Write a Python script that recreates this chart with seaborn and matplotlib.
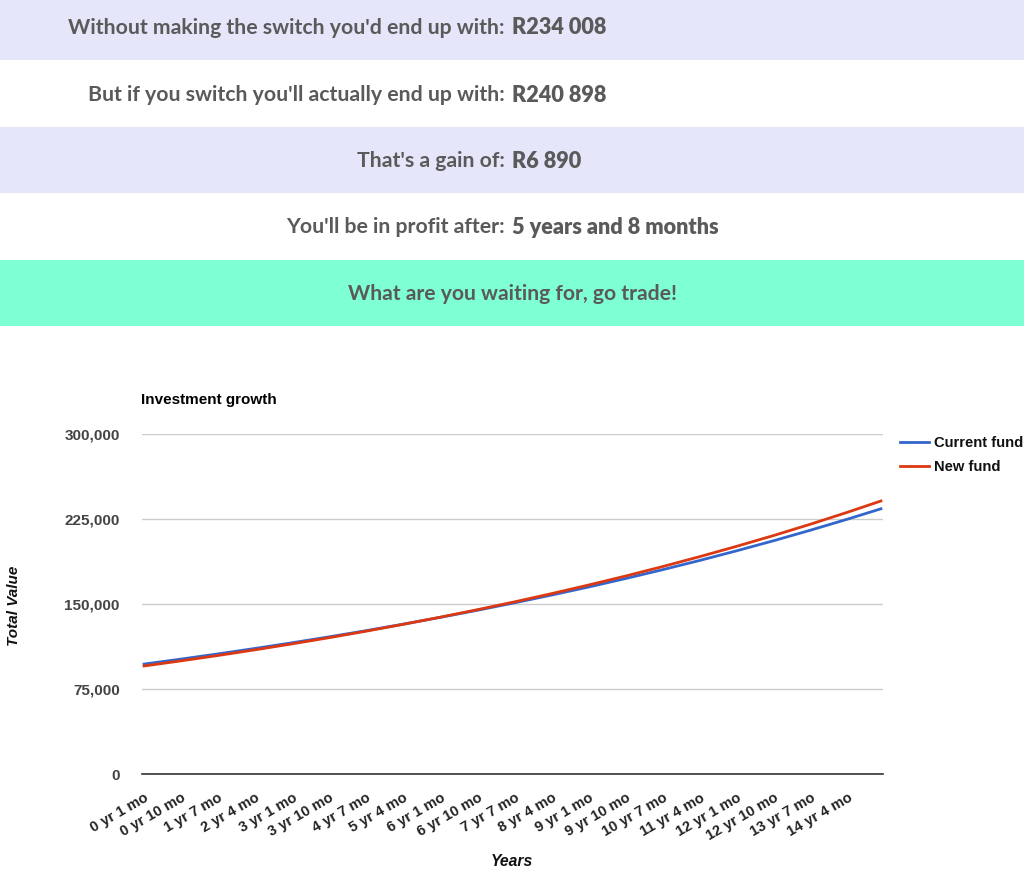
import matplotlib
matplotlib.use("Agg")
import matplotlib.pyplot as plt
from matplotlib.patches import Rectangle
from matplotlib.ticker import FuncFormatter, FixedLocator
from matplotlib.transforms import ScaledTranslation
import seaborn as sns
import pandas as pd

# ---- data ----
months = [1, 10, 19, 28, 37, 46, 55, 64, 73, 82, 91, 100, 109, 118, 127, 136, 145, 154, 163, 172, 180]
current_fund = [97000, 101400, 106000, 110800, 115800, 121050, 126500, 132250, 138250, 144500,
                151050, 157900, 165000, 172500, 180300, 188450, 197000, 205900, 215250, 225000, 234008]
new_fund = [95300, 99850, 104600, 109600, 114850, 120300, 126050, 132100, 138400, 145000,
            151900, 159150, 166750, 174700, 183050, 191800, 200950, 210500, 220550, 231100, 240898]
tick_months = [1, 10, 19, 28, 37, 46, 55, 64, 73, 82, 91, 100, 109, 118, 127, 136, 145, 154, 163, 172]
tick_labels = ["0 yr 1 mo", "0 yr 10 mo", "1 yr 7 mo", "2 yr 4 mo", "3 yr 1 mo", "3 yr 10 mo",
               "4 yr 7 mo", "5 yr 4 mo", "6 yr 1 mo", "6 yr 10 mo", "7 yr 7 mo", "8 yr 4 mo",
               "9 yr 1 mo", "9 yr 10 mo", "10 yr 7 mo", "11 yr 4 mo", "12 yr 1 mo", "12 yr 10 mo",
               "13 yr 7 mo", "14 yr 4 mo"]
series_names = ["Current fund", "New fund"]
y_ticks = [0, 75000, 150000, 225000, 300000]

banner_labels = ["Without making the switch you'd end up with:",
                 "But if you switch you'll actually end up with:",
                 "That's a gain of:",
                 "You'll be in profit after:"]
banner_values = ["R234 008", "R240 898", "R6 890", "5 years and 8 months"]
call_to_action = "What are you waiting for, go trade!"

# ---- figure ----
W, H = 1024, 871
fig = plt.figure(figsize=(W / 100, H / 100), dpi=100)
fig.patch.set_facecolor("white")

def fy(py):
    return 1 - py / H

def fx(px):
    return px / W

# banners
bands = [(0, 60, "#E6E6FA"), (60, 127, "#FFFFFF"), (127, 193, "#E6E6FA"),
         (193, 260, "#FFFFFF"), (260, 326, "#7FFFD4")]
for top, bot, col in bands:
    fig.patches.append(Rectangle((0, fy(bot)), 1, (bot - top) / H, transform=fig.transFigure,
                                 facecolor=col, edgecolor="none", zorder=0))

text_col = "#5a5a5a"
centers = [28, 95, 161, 227]
for lab, val, cy in zip(banner_labels, banner_values, centers):
    fig.text(fx(505), fy(cy), lab, ha="right", va="center", fontsize=15.3,
             family="Lato", weight="bold", color=text_col)
    fig.text(fx(512), fy(cy), val, ha="left", va="center", fontsize=15.6,
             family="Lato", weight="heavy", color=text_col)
fig.text(fx(512), fy(294), call_to_action, ha="center", va="center", fontsize=15.25,
         family="Lato", weight="bold", color=text_col)

# ---- chart ----
ax = fig.add_axes([fx(142), fy(774), (883 - 142) / W, (774 - 434) / H])
df = pd.DataFrame({
    "month": months * 2,
    "value": current_fund + new_fund,
    "series": [series_names[0]] * len(months) + [series_names[1]] * len(months),
})
sns.lineplot(data=df, x="month", y="value", hue="series", hue_order=series_names,
             palette=["#3366CC", "#DC3912"], linewidth=2, ax=ax, legend=True)

ax.set_xlim(0.5, 180.5)
ax.set_ylim(0, 300000)
ax.yaxis.set_major_locator(FixedLocator(y_ticks))
ax.yaxis.set_major_formatter(FuncFormatter(lambda v, p: f"{int(v):,}"))
ax.set_xticks(tick_months)
ax.set_xticklabels(tick_labels, rotation=30, ha="right", rotation_mode="anchor",
                   family="Liberation Sans", fontsize=10.5, weight="bold", color="#222222")
shift = ScaledTranslation(2 / 100, 0, fig.dpi_scale_trans)
for lbl in ax.get_xticklabels():
    lbl.set_transform(lbl.get_transform() + shift)
for lbl in ax.get_yticklabels():
    lbl.set_family("Liberation Sans")
    lbl.set_fontsize(11)
    lbl.set_weight("bold")
    lbl.set_color("#444444")
ax.tick_params(axis="both", length=0)
ax.tick_params(axis="y", pad=16)
ax.tick_params(axis="x", pad=12)
ax.grid(axis="y", color="#CCCCCC", linewidth=1)
ax.grid(axis="x", visible=False)
ax.set_axisbelow(True)
for s in ["top", "right", "left"]:
    ax.spines[s].set_visible(False)
ax.spines["bottom"].set_color("#333333")
ax.spines["bottom"].set_linewidth(1.2)
ax.set_facecolor("white")
ax.set_xlabel("")
ax.set_ylabel("")

fig.text(fx(141), fy(400), "Investment growth", ha="left", va="center", fontsize=11,
         family="Liberation Sans", weight="bold", color="#000000")
fig.text(fx(14), fy(606), "Total Value", ha="center", va="center", rotation=90, fontsize=11,
         family="Liberation Sans", weight="bold", style="italic", color="#111111")
fig.text(fx(512), fy(861), "Years", ha="center", va="center", fontsize=11.3,
         family="Liberation Sans", weight="bold", style="italic", color="#111111")

leg = ax.legend(loc="upper left", bbox_to_anchor=(fx(894), fy(430)), bbox_transform=fig.transFigure,
                frameon=False, handlelength=2.0, handletextpad=0.35, labelspacing=0.68,
                prop={"family": "Liberation Sans", "weight": "bold", "size": 10.6}, borderaxespad=0)
for t in leg.get_texts():
    t.set_color("#111111")

fig.savefig("out.png", dpi=100)
